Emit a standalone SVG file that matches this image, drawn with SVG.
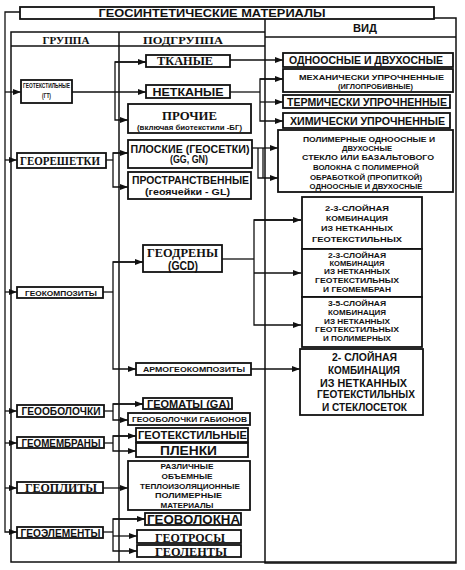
<svg xmlns="http://www.w3.org/2000/svg" width="465" height="570" viewBox="0 0 465 570">
<style>
.box{fill:#fff;stroke:#111;stroke-width:1.8}
.ln{fill:none;stroke:#111;stroke-width:1.3}
.fr{fill:none;stroke:#111;stroke-width:1.5}
text{font-family:"Liberation Sans",Arial,sans-serif;font-weight:bold;fill:#111;text-anchor:middle}
text.sf{font-family:"Liberation Serif","Times New Roman",serif}
</style>
<defs>
<marker id="ar" markerUnits="userSpaceOnUse" markerWidth="9" markerHeight="7" refX="8" refY="3" orient="auto">
<path d="M0,0 L8,3 L0,6 z" fill="#111"/>
</marker>
</defs>
<rect width="465" height="570" fill="#fff"/>

<g id="frame">
<rect class="fr" x="265" y="18" width="191" height="545"/>
<line class="fr" x1="265" y1="37" x2="456" y2="37"/>
<polyline class="fr" points="265,32 11,32 11,562 456,562"/>
<line class="fr" x1="11" y1="46" x2="265" y2="46"/>
<line class="fr" x1="119" y1="32" x2="119" y2="562"/>
<text x="66" y="44" font-size="11" class="sf" textLength="47" lengthAdjust="spacingAndGlyphs">ГРУППА</text>
<text x="183" y="44" font-size="11" class="sf" textLength="80" lengthAdjust="spacingAndGlyphs">ПОДГРУППА</text>
<text x="365" y="32" font-size="11.5" textLength="24" lengthAdjust="spacingAndGlyphs">ВИД</text>
</g>

<g id="title">
<rect class="box" x="20" y="7" width="414" height="12"/>
<text x="212" y="17" font-size="11.5" textLength="227" lengthAdjust="spacingAndGlyphs">ГЕОСИНТЕТИЧЕСКИЕ МАТЕРИАЛЫ</text>
</g>

<g id="connectors">
<path class="ln" d="M20,12 H5 V532 H17" marker-end="url(#ar)"/>
<path class="ln" d="M5,92 H21" marker-end="url(#ar)"/>
<path class="ln" d="M5,160 H17" marker-end="url(#ar)"/>
<path class="ln" d="M5,292 H17" marker-end="url(#ar)"/>
<path class="ln" d="M5,411 H17" marker-end="url(#ar)"/>
<path class="ln" d="M5,443 H17" marker-end="url(#ar)"/>
<path class="ln" d="M5,488 H17" marker-end="url(#ar)"/>

<path class="ln" d="M72,92 H146" marker-end="url(#ar)"/>
<path class="ln" d="M146,62 H115 V120 H128" marker-end="url(#ar)"/>
<path class="ln" d="M115,62 H146" marker-end="url(#ar)"/>

<path class="ln" d="M106,160 H113"/>
<path class="ln" d="M128,153 H113 V187 H128" marker-end="url(#ar)"/>
<path class="ln" d="M113,153 H128" marker-end="url(#ar)"/>

<path class="ln" d="M103,292 H113"/>
<path class="ln" d="M143,262 H113 V369 H136" marker-end="url(#ar)"/>
<path class="ln" d="M113,262 H143" marker-end="url(#ar)"/>

<path class="ln" d="M104,411 H113"/>
<path class="ln" d="M143,404 H113 V420 H128" marker-end="url(#ar)"/>
<path class="ln" d="M113,404 H143" marker-end="url(#ar)"/>

<path class="ln" d="M104,443 H113"/>
<path class="ln" d="M136,436 H113 V451 H136" marker-end="url(#ar)"/>
<path class="ln" d="M113,436 H136" marker-end="url(#ar)"/>

<path class="ln" d="M103,488 H128" marker-end="url(#ar)"/>

<path class="ln" d="M103,532 H113"/>
<path class="ln" d="M145,519 H113 V551 H137" marker-end="url(#ar)"/>
<path class="ln" d="M113,519 H145" marker-end="url(#ar)"/>
<path class="ln" d="M113,536 H137" marker-end="url(#ar)"/>

<path class="ln" d="M230,60 H283" marker-end="url(#ar)"/>
<path class="ln" d="M230,92 H260"/>
<path class="ln" d="M283,79 H260 V121 H283" marker-end="url(#ar)"/>
<path class="ln" d="M260,79 H283" marker-end="url(#ar)"/>
<path class="ln" d="M260,102 H283" marker-end="url(#ar)"/>

<path class="ln" d="M252,148 H278" marker-end="url(#ar)"/>
<path class="ln" d="M258,148 V178 H278" marker-end="url(#ar)"/>
<path class="ln" d="M263,148 V178"/>

<path class="ln" d="M222,259 H254"/>
<path class="ln" d="M301,220 H254 V325 H301" marker-end="url(#ar)"/>
<path class="ln" d="M254,220 H301" marker-end="url(#ar)"/>
<path class="ln" d="M254,273 H301" marker-end="url(#ar)"/>

<path class="ln" d="M251,369 H300" marker-end="url(#ar)"/>
</g>

<g id="g-geotextiles">
<rect class="box" x="21" y="80" width="51" height="23"/>
<text x="46.5" y="88" font-size="6.5" textLength="47" lengthAdjust="spacingAndGlyphs">ГЕОТЕКСТИЛЬНЫЕ</text>
<text x="46.5" y="98" font-size="6.5" textLength="9" lengthAdjust="spacingAndGlyphs">(ГТ)</text>
</g>
<g id="g-georeshetki">
<rect class="box" x="17" y="153" width="89" height="15"/>
<text x="60" y="165" font-size="12" class="sf" textLength="80" lengthAdjust="spacingAndGlyphs">ГЕОРЕШЕТКИ</text>
</g>
<g id="g-geocomposites">
<rect class="box" x="17" y="287" width="86" height="11"/>
<text x="61" y="295.5" font-size="8" textLength="72" lengthAdjust="spacingAndGlyphs">ГЕОКОМПОЗИТЫ</text>
</g>
<g id="g-geoobolochki">
<rect class="box" x="17" y="405" width="87" height="12"/>
<text x="61" y="414.8" font-size="10" textLength="79" lengthAdjust="spacingAndGlyphs">ГЕООБОЛОЧКИ</text>
</g>
<g id="g-geomembrany">
<rect class="box" x="17" y="437" width="87" height="11"/>
<text x="61" y="446.5" font-size="10" textLength="79" lengthAdjust="spacingAndGlyphs">ГЕОМЕМБРАНЫ</text>
</g>
<g id="g-geoplity">
<rect class="box" x="17" y="482" width="86" height="11"/>
<text x="61" y="492.3" font-size="13" class="sf" textLength="72" lengthAdjust="spacingAndGlyphs">ГЕОПЛИТЫ</text>
</g>
<g id="g-geoelementy">
<rect class="box" x="17" y="527" width="86" height="11"/>
<text x="60.5" y="536.5" font-size="10" textLength="80" lengthAdjust="spacingAndGlyphs">ГЕОЭЛЕМЕНТЫ</text>
</g>

<g id="s-tkanye">
<rect class="box" x="146" y="55" width="84" height="12"/>
<text x="185" y="65.3" font-size="12" class="sf" textLength="56" lengthAdjust="spacingAndGlyphs">ТКАНЫЕ</text>
</g>
<g id="s-netkanye">
<rect class="box" x="146" y="85" width="84" height="13"/>
<text x="188" y="96" font-size="11.5" textLength="71" lengthAdjust="spacingAndGlyphs">НЕТКАНЫЕ</text>
</g>
<g id="s-prochie">
<rect class="box" x="128" y="104" width="123" height="29"/>
<text x="189.5" y="120" font-size="13" class="sf" textLength="55" lengthAdjust="spacingAndGlyphs">ПРОЧИЕ</text>
<text x="189.5" y="129.5" font-size="6.5" textLength="105" lengthAdjust="spacingAndGlyphs">(включая биотекстили -БГ)</text>
</g>
<g id="s-ploskie">
<rect class="box" x="128" y="140" width="124" height="28"/>
<text x="190" y="152.5" font-size="10.5" textLength="119" lengthAdjust="spacingAndGlyphs">ПЛОСКИЕ (ГЕОСЕТКИ)</text>
<text x="189" y="163.3" font-size="10.5" textLength="38" lengthAdjust="spacingAndGlyphs">(GG, GN)</text>
</g>
<g id="s-prostranstvennye">
<rect class="box" x="128" y="172" width="123" height="27"/>
<text x="190.5" y="184" font-size="10" textLength="117" lengthAdjust="spacingAndGlyphs">ПРОСТРАНСТВЕННЫЕ</text>
<text x="187.5" y="195" font-size="8.5" textLength="85" lengthAdjust="spacingAndGlyphs">(геоячейки - GL)</text>
</g>
<g id="s-geodreny">
<rect class="box" x="143" y="245" width="79" height="27"/>
<text x="182.5" y="257" font-size="13" class="sf" textLength="71" lengthAdjust="spacingAndGlyphs">ГЕОДРЕНЫ</text>
<text x="183" y="269.5" font-size="12.5" textLength="30" lengthAdjust="spacingAndGlyphs">(GCD)</text>
</g>
<g id="s-armo">
<rect class="box" x="136" y="363" width="115" height="12"/>
<text x="194" y="372" font-size="7.5" textLength="102" lengthAdjust="spacingAndGlyphs">АРМОГЕОКОМПОЗИТЫ</text>
</g>
<g id="s-geomaty">
<rect class="box" x="143" y="398" width="89" height="11"/>
<text x="188.5" y="407.5" font-size="10" textLength="83" lengthAdjust="spacingAndGlyphs">ГЕОМАТЫ (GA)</text>
</g>
<g id="s-gabiony">
<rect class="box" x="128" y="413" width="122" height="12"/>
<text x="189.5" y="421.8" font-size="7" textLength="115" lengthAdjust="spacingAndGlyphs">ГЕООБОЛОЧКИ ГАБИОНОВ</text>
</g>
<g id="s-geotextilnye">
<rect class="box" x="136" y="428" width="112" height="14"/>
<text x="192.5" y="439.3" font-size="11" textLength="109" lengthAdjust="spacingAndGlyphs">ГЕОТЕКСТИЛЬНЫЕ</text>
</g>
<g id="s-plenki">
<rect class="box" x="136" y="443" width="112" height="14"/>
<text x="188.5" y="454.8" font-size="12.5" textLength="57" lengthAdjust="spacingAndGlyphs">ПЛЕНКИ</text>
</g>
<g id="s-razlichnye">
<rect class="box" x="128" y="461" width="122" height="49"/>
<text x="187" y="468.5" font-size="7" textLength="53" lengthAdjust="spacingAndGlyphs">РАЗЛИЧНЫЕ</text>
<text x="187" y="479" font-size="7" textLength="51" lengthAdjust="spacingAndGlyphs">ОБЪЕМНЫЕ</text>
<text x="190" y="489" font-size="7" textLength="100" lengthAdjust="spacingAndGlyphs">ТЕПЛОИЗОЛЯЦИОННЫЕ</text>
<text x="188.5" y="497.5" font-size="7" textLength="67" lengthAdjust="spacingAndGlyphs">ПОЛИМЕРНЫЕ</text>
<text x="187" y="507.5" font-size="7" textLength="53" lengthAdjust="spacingAndGlyphs">МАТЕРИАЛЫ</text>
</g>
<g id="s-geovolokna">
<rect class="box" x="145" y="513" width="96" height="12"/>
<text x="193.5" y="524.3" font-size="13" textLength="93" lengthAdjust="spacingAndGlyphs">ГЕОВОЛОКНА</text>
</g>
<g id="s-geotrosy">
<rect class="box" x="137" y="530" width="104" height="13"/>
<text x="190" y="541.5" font-size="13" class="sf" textLength="70" lengthAdjust="spacingAndGlyphs">ГЕОТРОСЫ</text>
</g>
<g id="s-geolenty">
<rect class="box" x="137" y="545" width="104" height="12"/>
<text x="191" y="556" font-size="13" class="sf" textLength="72" lengthAdjust="spacingAndGlyphs">ГЕОЛЕНТЫ</text>
</g>

<g id="v-odnoosnye">
<rect class="box" x="283" y="53" width="170" height="14"/>
<text x="366" y="64.3" font-size="10.5" textLength="154" lengthAdjust="spacingAndGlyphs">ОДНООСНЫЕ И ДВУХОСНЫЕ</text>
</g>
<g id="v-mech">
<rect class="box" x="283" y="69" width="170" height="23"/>
<text x="371.5" y="79.5" font-size="7.5" textLength="145" lengthAdjust="spacingAndGlyphs">МЕХАНИЧЕСКИ УПРОЧНЕННЫЕ</text>
<text x="375.5" y="88.5" font-size="7.5" textLength="75" lengthAdjust="spacingAndGlyphs">(ИГЛОПРОБИВНЫЕ)</text>
</g>
<g id="v-term">
<rect class="box" x="283" y="95" width="167" height="13"/>
<text x="367" y="105.8" font-size="11" textLength="160" lengthAdjust="spacingAndGlyphs">ТЕРМИЧЕСКИ УПРОЧНЕННЫЕ</text>
</g>
<g id="v-him">
<rect class="box" x="283" y="113" width="167" height="15"/>
<text x="367.5" y="124.8" font-size="11" textLength="155" lengthAdjust="spacingAndGlyphs">ХИМИЧЕСКИ УПРОЧНЕННЫЕ</text>
</g>
<g id="v-polymer">
<rect class="box" x="278" y="130" width="175" height="62"/>
<text x="369" y="141.5" font-size="7.5" textLength="132" lengthAdjust="spacingAndGlyphs">ПОЛИМЕРНЫЕ ОДНООСНЫЕ И</text>
<text x="367" y="150.5" font-size="7.5" textLength="50" lengthAdjust="spacingAndGlyphs">ДВУХОСНЫЕ</text>
<text x="368" y="159.5" font-size="7.5" textLength="132" lengthAdjust="spacingAndGlyphs">СТЕКЛО ИЛИ БАЗАЛЬТОВОГО</text>
<text x="366" y="169.5" font-size="7.5" textLength="106" lengthAdjust="spacingAndGlyphs">ВОЛОКНА С ПОЛИМЕРНОЙ</text>
<text x="366" y="179.5" font-size="7.5" textLength="112" lengthAdjust="spacingAndGlyphs">ОБРАБОТКОЙ (ПРОПИТКОЙ)</text>
<text x="366" y="189" font-size="7.5" textLength="113" lengthAdjust="spacingAndGlyphs">ОДНООСНЫЕ И ДВУХОСНЫЕ</text>
</g>
<g id="v-drain1">
<rect class="box" x="302" y="197" width="120" height="52"/>
<text x="357" y="210.5" font-size="8" textLength="64" lengthAdjust="spacingAndGlyphs">2-3-СЛОЙНАЯ</text>
<text x="357" y="220.5" font-size="8" textLength="62" lengthAdjust="spacingAndGlyphs">КОМБИНАЦИЯ</text>
<text x="357" y="230.5" font-size="8" textLength="72" lengthAdjust="spacingAndGlyphs">ИЗ НЕТКАННЫХ</text>
<text x="357" y="241.5" font-size="8" textLength="90" lengthAdjust="spacingAndGlyphs">ГЕОТЕКСТИЛЬНЫХ</text>
</g>
<g id="v-drain2">
<rect class="box" x="302" y="249" width="120" height="48"/>
<text x="357" y="257.5" font-size="7.5" textLength="58" lengthAdjust="spacingAndGlyphs">2-3-СЛОЙНАЯ</text>
<text x="357" y="265.5" font-size="7.5" textLength="55" lengthAdjust="spacingAndGlyphs">КОМБИНАЦИЯ</text>
<text x="357" y="274" font-size="7.5" textLength="66" lengthAdjust="spacingAndGlyphs">ИЗ НЕТКАННЫХ</text>
<text x="357" y="283" font-size="7.5" textLength="84" lengthAdjust="spacingAndGlyphs">ГЕОТЕКСТИЛЬНЫХ</text>
<text x="357" y="291.5" font-size="7.5" textLength="68" lengthAdjust="spacingAndGlyphs">И ГЕОМЕМБРАН</text>
</g>
<g id="v-drain3">
<rect class="box" x="302" y="297" width="120" height="50"/>
<text x="357" y="305.5" font-size="7.5" textLength="58" lengthAdjust="spacingAndGlyphs">3-5-СЛОЙНАЯ</text>
<text x="357" y="315" font-size="7.5" textLength="58" lengthAdjust="spacingAndGlyphs">КОМБИНАЦИЯ</text>
<text x="357" y="323.5" font-size="7.5" textLength="66" lengthAdjust="spacingAndGlyphs">ИЗ НЕТКАННЫХ</text>
<text x="357" y="332" font-size="7.5" textLength="84" lengthAdjust="spacingAndGlyphs">ГЕОТЕКСТИЛЬНЫХ</text>
<text x="357" y="340.5" font-size="7.5" textLength="68" lengthAdjust="spacingAndGlyphs">И ПОЛИМЕРНЫХ</text>
</g>
<g id="v-armo">
<rect class="box" x="300" y="349" width="123" height="66"/>
<text x="364.5" y="360.8" font-size="10.5" textLength="65" lengthAdjust="spacingAndGlyphs">2- СЛОЙНАЯ</text>
<text x="364" y="374.3" font-size="10.5" textLength="72" lengthAdjust="spacingAndGlyphs">КОМБИНАЦИЯ</text>
<text x="363.5" y="386.8" font-size="10.5" textLength="87" lengthAdjust="spacingAndGlyphs">ИЗ НЕТКАННЫХ</text>
<text x="366" y="397.8" font-size="10.5" textLength="98" lengthAdjust="spacingAndGlyphs">ГЕОТЕКСТИЛЬНЫХ</text>
<text x="364.5" y="410.8" font-size="10.5" textLength="85" lengthAdjust="spacingAndGlyphs">И СТЕКЛОСЕТОК</text>
</g>
</svg>
